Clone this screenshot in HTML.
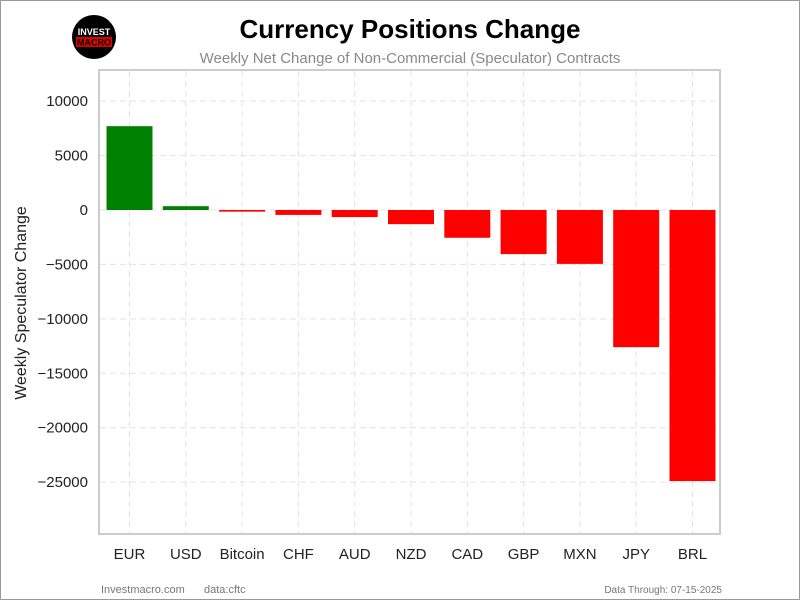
<!DOCTYPE html>
<html><head><meta charset="utf-8"><style>
body{margin:0;background:#fff;}
#wrap{position:relative;width:798px;height:598px;border:1px solid #999;overflow:hidden;font-family:"Liberation Sans",sans-serif;}
</style></head><body>
<div id="wrap">
<svg id="chart" width="798" height="598" xmlns="http://www.w3.org/2000/svg">
<g>
<circle cx="93" cy="36" r="22" fill="#000"/>
<text x="93" y="34" font-size="9" font-weight="bold" fill="#fff" text-anchor="middle" font-family="Liberation Sans, sans-serif">INVEST</text>
<rect x="75" y="36" width="36" height="10" fill="#d00"/>
<text x="93" y="44.5" font-size="9" font-weight="bold" fill="#000" text-anchor="middle" font-family="Liberation Sans, sans-serif">MACRO</text>
</g>
<text x="409" y="37" font-size="26" font-weight="bold" text-anchor="middle" fill="#000">Currency Positions Change</text>
<text x="409" y="62" font-size="15" text-anchor="middle" fill="#888">Weekly Net Change of Non-Commercial (Speculator) Contracts</text>
<g id="grid"></g>
<g id="bars"></g>
<rect x="98" y="69" width="621" height="464" fill="none" stroke="#ccc" stroke-width="2"/>
<g id="yticks"></g>
<g id="xticks"></g>
<text transform="translate(25,302) rotate(-90)" font-size="16" text-anchor="middle" fill="#222">Weekly Speculator Change</text>
<text x="100" y="592" font-size="11" fill="#777">Investmacro.com</text>
<text x="203" y="592" font-size="11" fill="#777">data:cftc</text>
<text x="721" y="592" font-size="10" fill="#777" text-anchor="end">Data Through: 07-15-2025</text>
</svg>
</div>
<script>
const categories=["EUR","USD","Bitcoin","CHF","AUD","NZD","CAD","GBP","MXN","JPY","BRL"];
const values=[7700,350,-150,-450,-650,-1300,-2550,-4050,-4950,-12600,-24900];
const yTicks=[10000,5000,0,-5000,-10000,-15000,-20000,-25000];
const yTickLabels=["10000","5000","0","\u22125000","\u221210000","\u221215000","\u221220000","\u221225000"];
const NS="http://www.w3.org/2000/svg";
const y0=209,k=0.010886;
function yScale(v){return y0-v*k;}
const x0=128.5,step=56.3;
function xScale(i){return x0+i*step;}
const bw=46;
const grid=document.getElementById('grid'),bars=document.getElementById('bars'),yt=document.getElementById('yticks'),xt=document.getElementById('xticks');
function mk(t,a){const e=document.createElementNS(NS,t);for(const key in a)e.setAttribute(key,a[key]);return e;}
yTicks.forEach((v,i)=>{
  const l=mk('line',{x1:99,x2:719,y1:yScale(v),y2:yScale(v),stroke:'#e3e3e3','stroke-dasharray':'6,4'});
  
  
  grid.appendChild(l);
  const t=mk('text',{x:87,y:yScale(v)+5,'font-size':15,'text-anchor':'end',fill:'#222'});
  t.textContent=yTickLabels[i];
  
  
  yt.appendChild(t);
});
categories.forEach((c,i)=>{
  const x=xScale(i);
  const l=mk('line',{x1:x,x2:x,y1:70,y2:533,stroke:'#e3e3e3','stroke-dasharray':'6,4'});
  
  
  grid.appendChild(l);
  const v=values[i];
  const top=Math.min(yScale(v),yScale(0)),h=Math.abs(yScale(v)-yScale(0));
  const r=mk('rect',{x:x-bw/2,y:top,width:bw,height:Math.max(h,1),fill:v>=0?'#008000':'#ff0000'});
  
  
  bars.appendChild(r);
  const t=mk('text',{x:x,y:558,'font-size':15,'text-anchor':'middle',fill:'#222'});
  t.textContent=c;
  
  
  xt.appendChild(t);
});
</script>
</body></html>
